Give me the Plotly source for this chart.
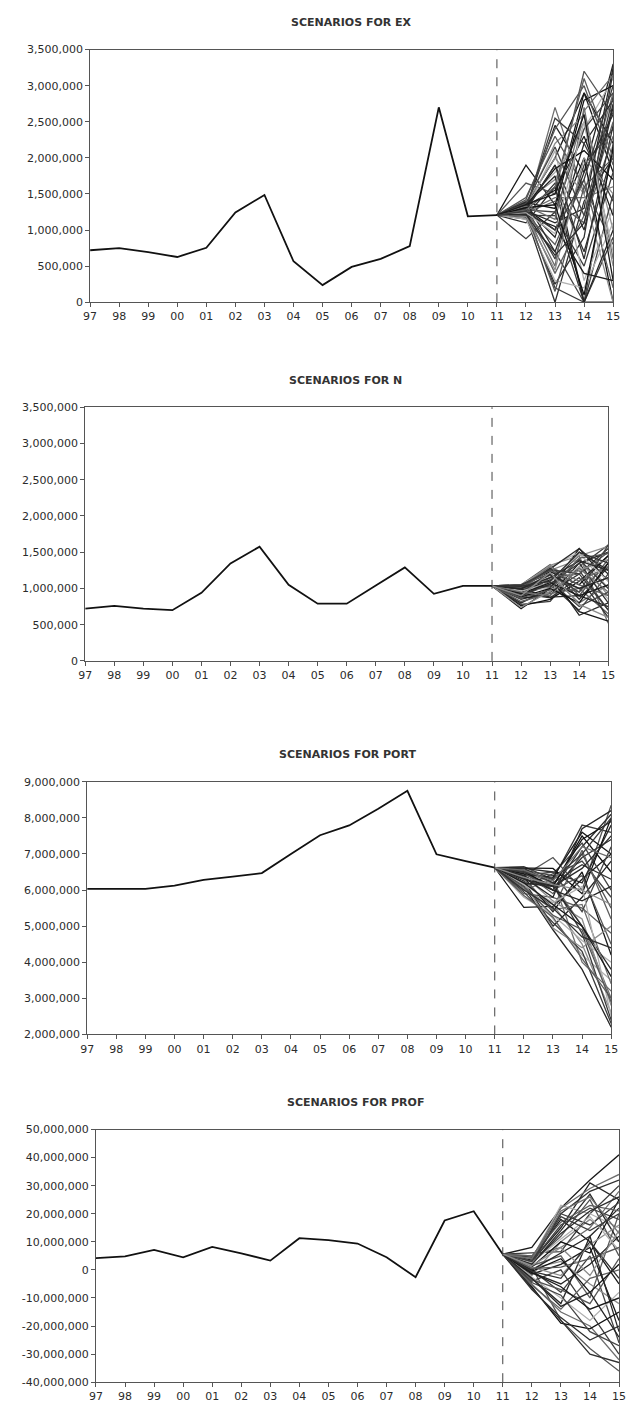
import plotly.graph_objects as go

# Years shown on the horizontal axis (two-digit labels)
years = ["97", "98", "99", "00", "01", "02", "03", "04", "05", "06",
         "07", "08", "09", "10", "11", "12", "13", "14", "15"]
forecast_years = ["12", "13", "14", "15"]

# ---- EX ----
ex_hist = [720000, 750000, 695000, 627000, 754000, 1244000, 1486000, 567000,
           237000, 490000, 600000, 777000, 2700000, 1190000, 1207000]
ex_scen = [
    [1900, 1350, 2900, 1800], [880, 1250, 0, 2200], [1650, 1500, 3200, 2600],
    [1300, 2450, 1800, 3300], [1250, 2700, 1500, 2900], [1200, 0, 1400, 2000],
    [1350, 2200, 2600, 1000], [1150, 700, 0, 1500], [1400, 1800, 2400, 3100],
    [1300, 1000, 2000, 0], [1250, 400, 1200, 2500], [1100, 1600, 0, 0],
    [1350, 2000, 2900, 2200], [1200, 1200, 500, 1800], [1450, 2300, 1600, 800],
    [1300, 900, 2200, 2800], [1250, 1450, 1450, 1600], [1180, 250, 900, 3200],
    [1400, 1700, 2500, 500], [1320, 600, 1900, 2400], [1260, 2100, 300, 1300],
    [1380, 1300, 2800, 3000], [1220, 800, 1700, 200], [1290, 1900, 1000, 2700],
    [1340, 1550, 2300, 1200], [1230, 200, 0, 900], [1420, 2400, 3000, 1900],
    [1270, 1100, 1300, 3250], [1310, 500, 2700, 600], [1200, 1650, 700, 2100],
    [1360, 2000, 1500, 0], [1280, 1250, 2400, 2900], [1150, 300, 200, 1100],
    [1330, 1850, 2100, 1700], [1240, 1400, 1100, 2300], [1390, 700, 1800, 2600],
    [1210, 1050, 400, 300], [1300, 2550, 2200, 1400], [1260, 150, 1600, 2000],
    [1350, 1750, 0, 1000], [1330, 1150, 2650, 3150], [1270, 1900, 600, 2450],
    [1190, 450, 2000, 1500], [1370, 2150, 1200, 2850], [1240, 950, 2500, 700],
    [1310, 1350, 100, 2150], [1280, 1600, 3100, 2000], [1220, 650, 1100, 2750],
    [1350, 1500, 2600, 300], [1260, 1000, 1700, 3000],
]  # thousands

# ---- N ----
n_hist = [720000, 760000, 720000, 700000, 940000, 1345000, 1577000, 1050000,
          790000, 790000, 1040000, 1290000, 925000, 1035000, 1035000]
n_scen = [
    [720, 1000, 1550, 1100], [780, 820, 1300, 1600], [1050, 1330, 900, 1400],
    [960, 1200, 630, 800], [1040, 1100, 1450, 520], [850, 950, 1200, 1550],
    [1000, 1250, 1400, 900], [900, 1050, 700, 1200], [1050, 1300, 1500, 1000],
    [760, 850, 1100, 1450], [980, 1150, 1000, 650], [1020, 1280, 850, 1300],
    [870, 900, 1350, 1500], [940, 1220, 1250, 700], [1045, 1050, 950, 1350],
    [800, 1000, 1500, 1250], [1010, 1180, 800, 1050], [930, 870, 1150, 600],
    [1030, 1320, 1450, 1580], [890, 1100, 750, 950], [970, 1000, 1300, 850],
    [1050, 1230, 1050, 1450], [820, 930, 1000, 1150], [1000, 1270, 1550, 1200],
    [950, 1120, 680, 550], [1040, 1020, 1400, 1000], [860, 1150, 1200, 1500],
    [990, 880, 900, 750], [1020, 1300, 1100, 1300], [910, 1060, 1350, 800],
    [740, 960, 1250, 1400], [1050, 1200, 950, 1600], [960, 1080, 1480, 1100],
    [880, 1000, 800, 1350], [1000, 1250, 1050, 900], [1000, 1150, 1380, 1250],
    [930, 1080, 900, 1050], [1040, 1260, 1200, 700], [870, 980, 1420, 1480],
    [990, 1190, 1000, 1150], [950, 900, 1280, 950], [1030, 1100, 1500, 1350],
    [900, 1220, 780, 600],
]  # thousands

# ---- PORT ----
port_hist = [6030000, 6030000, 6030000, 6120000, 6280000, 6370000, 6470000,
             7000000, 7520000, 7790000, 8250000, 8750000, 6990000, 6800000,
             6620000]
port_scen = [
    [5.52, 5.55, 6.3, 7.0], [6.65, 6.3, 7.8, 7.6], [6.4, 6.9, 6.0, 8.35],
    [6.1, 4.9, 3.8, 2.2], [6.5, 6.2, 5.0, 3.0], [6.3, 6.0, 7.2, 8.1],
    [6.0, 5.6, 4.5, 2.6], [6.55, 6.4, 6.8, 5.8], [6.2, 5.2, 4.2, 3.5],
    [6.45, 6.1, 7.5, 6.5], [5.9, 5.8, 5.5, 4.8], [6.6, 6.5, 6.2, 7.8],
    [6.35, 5.4, 6.5, 4.2], [6.15, 6.2, 4.8, 2.4], [6.5, 5.9, 7.0, 5.5],
    [6.25, 5.0, 5.8, 6.8], [6.0, 6.3, 4.0, 3.2], [6.55, 6.0, 6.9, 7.4],
    [6.4, 5.7, 5.2, 2.8], [6.1, 6.45, 7.3, 6.0], [5.8, 5.3, 4.6, 4.0],
    [6.6, 6.6, 5.9, 8.0], [6.3, 5.5, 7.1, 5.2], [6.2, 6.1, 5.0, 3.8],
    [6.45, 6.35, 7.6, 7.0], [5.95, 5.1, 4.3, 2.3], [6.5, 6.0, 6.4, 4.5],
    [6.35, 5.8, 7.7, 8.2], [6.05, 5.45, 5.6, 3.4], [6.6, 6.2, 6.7, 6.3],
    [6.2, 4.95, 4.4, 5.0], [6.4, 6.5, 5.4, 7.2], [6.15, 5.65, 6.1, 2.5],
    [6.5, 6.1, 7.4, 7.9], [5.85, 5.25, 4.1, 3.0], [6.3, 6.1, 6.6, 7.5],
    [6.2, 5.6, 5.0, 3.6], [6.5, 6.3, 7.0, 8.0], [6.1, 5.3, 4.9, 2.9],
    [6.4, 6.0, 5.7, 6.1], [6.55, 6.25, 7.2, 6.9], [6.0, 5.5, 4.7, 4.4],
    [6.35, 6.15, 6.0, 5.6],
]  # millions

# ---- PROF ----
prof_hist = [4200000, 4800000, 7100000, 4500000, 8200000, 5900000, 3300000,
             11300000, 10600000, 9400000, 4500000, -2600000, 17600000,
             20900000, 5600000]
prof_scen = [
    [8.0, 22.0, 32.0, 41.0], [6.0, 6.5, 20.0, 30.0], [1.0, -18.0, -28.0, -36.0],
    [3.0, 15.0, 31.0, 25.0], [-5.0, -15.0, -20.0, -32.0], [2.0, 20.0, 28.0, 32.0],
    [-2.0, 10.0, 18.0, 10.0], [0.0, -8.0, 5.0, -26.0], [4.0, 23.0, 20.0, 15.0],
    [-6.0, -19.0, -21.0, -15.0], [1.5, 5.0, -10.0, 20.0], [-3.0, -12.0, 12.0, 22.0],
    [3.5, 18.0, 10.0, -5.0], [-4.0, 0.0, -15.0, -30.0], [2.5, 12.0, 25.0, 5.0],
    [-1.0, -5.0, 2.0, 12.0], [5.0, 8.0, 15.0, 28.0], [-7.0, -17.0, -25.0, -20.0],
    [0.5, 3.0, -5.0, -12.0], [3.0, 16.0, 22.0, 18.0], [-2.5, -10.0, -18.0, -8.0],
    [1.0, 10.0, 6.0, 25.0], [-5.5, -14.0, -3.0, 0.0], [2.0, 14.0, 27.0, 10.0],
    [-1.5, 2.0, 8.0, -18.0], [4.5, 20.0, 16.0, 24.0], [-3.5, -7.0, -12.0, 4.0],
    [0.0, 6.0, 12.0, -22.0], [3.0, 21.0, 26.0, 13.0], [-6.5, -18.0, -30.0, -33.0],
    [1.0, -2.0, 9.0, 16.0], [-4.5, -9.0, -22.0, -27.0], [2.5, 11.0, 19.0, 7.0],
    [-0.5, 4.0, -8.0, 2.0], [5.0, 17.0, 23.0, 21.0], [2.0, 13.0, 21.0, 26.0],
    [-1.0, -6.0, -14.0, -10.0], [3.0, 19.0, 14.0, 20.0], [0.5, 1.0, 4.0, 8.0],
    [-3.0, -13.0, -8.0, -24.0], [4.0, 22.0, 29.0, 34.0], [-0.5, -3.0, 10.0, -3.0],
    [1.5, 8.0, -2.0, 14.0],
]  # millions

W, H = 626, 1409
FONT = "DejaVu Sans"
TXT = "#2b2b2b"
greys = ["#1a1a1a", "#3c3c3c", "#555555", "#262626", "#6e6e6e", "#303030",
         "#8c8c8c", "#444444", "#b0b0b0", "#111111", "#5e5e5e", "#2a2a2a"]

panels = [
    dict(title="SCENARIOS FOR EX", hist=ex_hist, scen=ex_scen, unit=1e3,
         box=(85, 620, 44, 299), tpos=(352, 17),
         yr=[0, 3500000], dt=500000),
    dict(title="SCENARIOS FOR N", hist=n_hist, scen=n_scen, unit=1e3,
         box=(80, 615, 405, 661), tpos=(346, 378),
         yr=[0, 3500000], dt=500000),
    dict(title="SCENARIOS FOR PORT", hist=port_hist, scen=port_scen, unit=1e6,
         box=(82, 618, 783, 1038), tpos=(348, 755),
         yr=[2000000, 9000000], dt=1000000),
    dict(title="SCENARIOS FOR PROF", hist=prof_hist, scen=prof_scen, unit=1e6,
         box=(91, 626, 1134, 1389), tpos=(356, 1107),
         yr=[-40000000, 50000000], dt=10000000),
]

fig = go.Figure()
xpos = list(range(len(years)))
split = years.index("11")
annotations = []
shapes = []

for i, p in enumerate(panels, start=1):
    xa = "x" if i == 1 else f"x{i}"
    ya = "y" if i == 1 else f"y{i}"
    start = p["hist"][-1]
    fx = [xpos[split]] + [years.index(y) for y in forecast_years]
    for k, path in enumerate(p["scen"]):
        fig.add_trace(go.Scatter(
            x=fx, y=[start] + [v * p["unit"] for v in path],
            mode="lines", line=dict(color=greys[k % len(greys)], width=1.3),
            xaxis=xa, yaxis=ya, showlegend=False, hoverinfo="skip"))
    fig.add_trace(go.Scatter(
        x=xpos[:split + 1], y=p["hist"], mode="lines",
        line=dict(color="#111111", width=1.8),
        xaxis=xa, yaxis=ya, showlegend=False))

    l, r, t, b = p["box"]
    lo, hi = p["yr"]
    ticks = list(range(int(lo), int(hi) + 1, int(p["dt"])))
    axis_common = dict(showgrid=False, zeroline=False, showline=True,
                       linecolor="#555555", linewidth=1, mirror=True,
                       ticks="outside", ticklen=4, tickcolor="#555555",
                       ticklabeloverflow="allow",
                       tickfont=dict(family=FONT, size=11, color=TXT))
    fig.update_layout(**{
        ("xaxis" if i == 1 else f"xaxis{i}"): dict(
            axis_common, domain=[l / W, r / W], range=[0, len(years) - 1],
            tickvals=xpos, ticktext=years, anchor=ya),
        ("yaxis" if i == 1 else f"yaxis{i}"): dict(
            axis_common, domain=[1 - b / H, 1 - t / H], range=[lo, hi],
            tickvals=ticks, ticktext=[f"{v:,}" for v in ticks], anchor=xa),
    })
    shapes.append(dict(type="line", xref=xa, yref=f"{ya} domain",
                       x0=split, x1=split, y0=0, y1=1,
                       line=dict(color="#444444", width=1, dash="dash")))
    tx, ty = p["tpos"]
    annotations.append(dict(text=f"<b>{p['title']}</b>", x=tx / W, y=1 - ty / H,
                            xref="paper", yref="paper", showarrow=False,
                            xanchor="center", yanchor="middle",
                            font=dict(family="DejaVu Sans", size=11,
                                      color="#333333")))

fig.update_layout(width=W, height=H, margin=dict(l=0, r=0, t=0, b=0),
                  paper_bgcolor="white", plot_bgcolor="white",
                  shapes=shapes, annotations=annotations, showlegend=False)

fig.write_html("out.html")
